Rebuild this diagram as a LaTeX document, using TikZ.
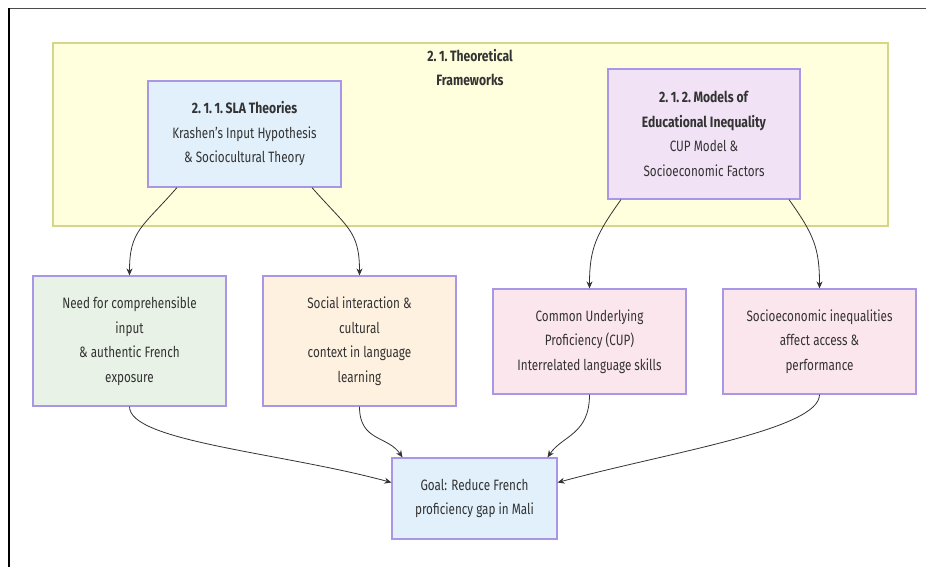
\documentclass[tikz,border=0pt]{standalone}
\usepackage{fontspec}
\setmainfont{Fira Sans}[FakeStretch=0.78, BoldFeatures={FakeStretch=0.81}]
\usetikzlibrary{arrows.meta}
\definecolor{txt}{HTML}{333333}
\definecolor{clfill}{HTML}{FFFFDE}
\definecolor{cldraw}{HTML}{D6D68A}
\definecolor{bord}{HTML}{A896E6}
\definecolor{fblue}{HTML}{E1F0FB}
\definecolor{fpurp}{HTML}{F1E3F5}
\definecolor{fgreen}{HTML}{E8F2E6}
\definecolor{forange}{HTML}{FFF1E0}
\definecolor{fpink}{HTML}{FCE6EE}
\definecolor{edge}{HTML}{333333}
\newcommand{\dk}{\kern2.5pt}
\tikzset{
  box/.style={draw=bord, line width=1.2pt, text=txt, align=center, inner sep=0pt,
    font=\fontsize{15}{24.5}\selectfont},
  conn/.style={draw=edge, line width=0.8pt, -{Stealth[length=7pt,width=6pt]}},
}
\begin{document}
\begin{tikzpicture}[x=1pt,y=-1pt]
\useasboundingbox (0,0) rectangle (926,567);
\fill[white] (0,0) rectangle (926,567);
% frame
\draw[line width=1.4pt, black!70] (926,8.5) -- (9,8.5);
\draw[line width=1.4pt, black] (9,8.5) -- (9,567);
% cluster
\node[draw=cldraw, fill=clfill, line width=1.2pt, minimum width=835pt, minimum height=183pt, inner sep=0pt] (cl) at (470.5,134.5) {};
\node[text=txt, align=center, font=\fontsize{15}{24.5}\selectfont\bfseries] (cltitle) at (470,67.5) {2.\dk 1.\dk Theoretical\\Frameworks};
% upper boxes
\node[box, fill=fblue, minimum width=193pt, minimum height=106pt] (sla) at (244.5,134)
  {\textbf{2.\dk 1.\dk 1.\dk SLA Theories}\\Krashen's Input Hypothesis\\\&~Sociocultural Theory};
\node[box, fill=fpurp, minimum width=192pt, minimum height=130pt] (mod) at (704,134)
  {\textbf{2.\dk 1.\dk 2.\dk Models of}\\\textbf{Educational Inequality}\\CUP Model \&\\Socioeconomic Factors};
% lower boxes
\node[box, fill=fgreen, minimum width=193pt, minimum height=130pt] (n1) at (129.5,341)
  {Need for comprehensible\\input\\\&~authentic French\\exposure};
\node[box, fill=forange, minimum width=193pt, minimum height=130pt] (n2) at (359.5,341)
  {Social interaction \&\\cultural\\context in language\\learning};
\node[box, fill=fpink, minimum width=193pt, minimum height=105pt] (n3) at (589.5,341.5)
  {Common Underlying\\Proficiency (CUP)\\Interrelated language skills};
\node[box, fill=fpink, minimum width=193pt, minimum height=105pt] (n4) at (819.5,341.5)
  {Socioeconomic inequalities\\affect access \&\\performance};
\node[box, fill=fblue, minimum width=165pt, minimum height=81pt] (goal) at (474.5,498.5)
  {Goal: Reduce French\\proficiency gap in Mali};
% connectors
\draw[conn] ([xshift=-67.5pt]sla.south) .. controls +(-35,40) and +(0,-45) .. (n1.north);
\draw[conn] ([xshift=67.5pt]sla.south) .. controls +(35,40) and +(0,-45) .. (n2.north);
\draw[conn] ([xshift=-83pt]mod.south) .. controls +(-25,35) and +(0,-40) .. (n3.north);
\draw[conn] ([xshift=85pt]mod.south) .. controls +(25,35) and +(0,-40) .. (n4.north);
\draw[conn] (n1.south) .. controls +(0,35) and +(-110,-30) .. ([yshift=16pt]goal.west);
\draw[conn] (n2.south) .. controls +(0,35) and +(-15,-22) .. ([xshift=-72pt]goal.north);
\draw[conn] (n3.south) .. controls +(0,40) and +(15,-22) .. ([xshift=73pt]goal.north);
\draw[conn] (n4.south) .. controls +(0,35) and +(110,-30) .. ([yshift=16pt]goal.east);
\end{tikzpicture}
\end{document}
